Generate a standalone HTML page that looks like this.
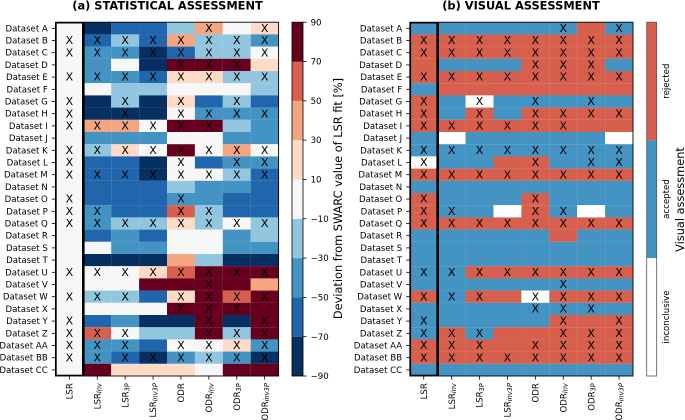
<!DOCTYPE html>
<html lang="en">
<head>
<meta charset="utf-8">
<title>Statistical and visual assessment heatmaps</title>
<style>
  html, body { margin: 0; padding: 0; background: #fff; }
  #chart { display: block; width: 685px; height: 420px; font-family: "DejaVu Sans", "Liberation Sans", sans-serif; filter: blur(0.3px); }
</style>
</head>
<body>
<svg id="chart" xmlns="http://www.w3.org/2000/svg" width="685" height="420" viewBox="0 0 685 420"></svg>
<script>
// ---------- Data ----------
const datasets = ['A','B','C','D','E','F','G','H','I','J','K','L','M','N','O','P','Q','R','S','T','U','V','W','X','Y','Z','AA','BB','CC'];
const methods = [['LSR',''],['LSR','inv'],['LSR','3P'],['LSR','inv3P'],['ODR',''],['ODR','inv'],['ODR','3P'],['ODR','inv3P']];
const colorbarTicks = [-90,-70,-50,-30,-10,10,30,50,70,90];
const visualLabels = ['inconclusive','accepted','rejected'];

// deviation from LSR fit [%], one row per dataset
const statValues = [
  [0,-80,-60,-60,-20,40,0,20],
  [0,-60,-20,-60,40,-20,-20,-40],
  [0,-40,-40,-80,-60,-20,-20,0],
  [0,-40,0,-80,80,80,80,20],
  [0,-40,-40,-60,20,20,-20,-20],
  [0,0,-20,-20,0,0,0,-20],
  [0,-80,-20,-80,20,-60,-20,-60],
  [0,-80,-80,-80,0,-40,-40,-40],
  [0,40,40,0,80,80,-20,-40],
  [0,-40,-40,-40,0,0,-40,-40],
  [0,-20,20,0,80,0,40,0],
  [0,-60,-60,-80,0,-60,-40,-40],
  [0,-60,-60,-80,0,0,-20,-60],
  [0,-60,-60,-60,-20,-40,-40,-60],
  [0,-60,-60,-60,-40,-40,-60,-60],
  [0,-40,-60,-60,60,-20,-60,-60],
  [0,-40,-20,-20,20,-20,0,-20],
  [0,-60,-40,-60,0,0,-40,-20],
  [0,0,-40,-40,0,0,-40,-40],
  [0,-80,-80,-80,40,-20,-80,-80],
  [0,0,0,20,60,80,80,80],
  [0,0,0,80,80,80,80,40],
  [0,-20,-20,-60,20,80,60,80],
  [0,0,0,0,80,80,80,80],
  [0,-60,-40,-80,-80,80,-80,80],
  [0,60,0,-20,-20,80,-20,80],
  [0,-40,-40,-60,0,0,20,-40],
  [0,-40,-60,-80,-40,-20,-40,-80],
  [0,80,20,20,20,0,80,80]
];

// visual assessment: 2 rejected, 1 accepted, 0 inconclusive
const visualValues = [
  [1,1,1,1,1,1,2,1],
  [2,2,2,2,2,2,2,2],
  [2,2,2,2,2,2,2,2],
  [2,1,1,1,2,2,2,1],
  [2,2,2,2,2,2,2,2],
  [1,2,2,2,2,2,2,2],
  [2,1,0,1,1,1,1,1],
  [2,1,2,1,2,2,2,2],
  [2,2,2,2,2,2,2,2],
  [1,0,1,1,1,1,1,0],
  [1,1,1,1,1,1,1,1],
  [0,1,1,2,2,1,1,1],
  [2,2,2,2,2,2,2,2],
  [1,1,1,1,1,1,1,1],
  [2,1,1,1,2,1,1,1],
  [2,1,1,0,2,1,0,1],
  [2,2,2,2,2,2,2,2],
  [1,1,1,1,1,2,1,1],
  [1,1,1,1,1,1,1,1],
  [1,1,1,1,1,1,1,1],
  [1,1,2,2,2,2,2,2],
  [1,1,1,1,1,1,1,1],
  [2,1,2,2,0,2,2,2],
  [1,1,1,1,1,1,1,1],
  [1,1,1,1,1,2,2,2],
  [1,2,1,2,2,2,2,2],
  [2,2,2,2,2,2,2,2],
  [2,2,2,2,2,2,2,2],
  [1,1,1,1,1,1,1,1]
];

// 1 = X marker shown for this dataset and method
const crossMarks = [
  [0,0,0,0,0,1,0,1],
  [1,1,1,1,1,1,1,1],
  [1,1,1,1,1,1,1,1],
  [0,0,0,0,1,1,1,0],
  [1,1,1,1,1,1,1,1],
  [0,0,0,0,0,0,0,0],
  [1,0,1,0,1,0,1,0],
  [1,0,1,0,1,1,1,1],
  [1,1,1,1,1,1,0,0],
  [0,0,0,0,0,0,0,0],
  [1,1,1,1,1,1,1,1],
  [1,0,0,0,1,0,1,1],
  [1,1,1,1,1,1,1,1],
  [0,0,0,0,0,0,0,0],
  [1,0,0,0,1,0,0,0],
  [1,1,0,0,1,1,0,0],
  [1,1,1,1,1,1,1,1],
  [0,0,0,0,0,0,0,0],
  [0,0,0,0,0,0,0,0],
  [0,0,0,0,0,0,0,0],
  [1,1,1,1,1,1,1,1],
  [0,0,0,0,0,1,0,0],
  [1,1,1,0,1,1,1,1],
  [0,0,0,0,1,1,1,0],
  [1,0,0,0,0,1,0,1],
  [1,1,1,0,0,1,1,1],
  [1,1,1,0,1,1,1,1],
  [1,1,1,1,1,1,1,1],
  [0,0,0,0,0,0,0,0]
];

// ---------- Layout and scales ----------
const TOP = 22.2, BOTTOM = 376;
const PANEL_A_LEFT = 55.4, PANEL_B_LEFT = 409.8, PANEL_WIDTH = 223.2;
const CB_A_LEFT = 292, CB_B_LEFT = 646.7, CB_A_W = 11, CB_B_W = 10;
const statColors = ['#053061','#2166ac','#4393c3','#92c5de','#f7f7f7','#fddbc7','#f4a582','#d6604d','#67001f'];
const visualColors = ['#ffffff','#4393c3','#d6604d'];
const rowH = (BOTTOM - TOP) / datasets.length;
const colW = PANEL_WIDTH / methods.length;
const xScale = (left, c) => left + c * colW;
const yScale = r => TOP + r * rowH;
const cbScale = v => BOTTOM - (v + 90) / 180 * (BOTTOM - TOP);
const statColor = v => statColors[Math.max(0, Math.min(8, Math.floor((v + 90) / 20)))];

const svg = document.getElementById('chart');
const NS = 'http://www.w3.org/2000/svg';
function make(tag, attrs, parent, text) {
  const el = document.createElementNS(NS, tag);
  for (const k in attrs) el.setAttribute(k, attrs[k]);
  if (text !== undefined) el.textContent = text;
  (parent || svg).appendChild(el);
  return el;
}
const minusText = v => v < 0 ? '\u2212' + Math.abs(v) : String(v);

function drawPanel(prefix, title, titleX, left, values, colorOf, thickBox) {
  const panel = make('g', {});
  
  

  const clip = make('clipPath', {id: prefix + '-clip'}, panel);
  make('rect', {x: left, y: TOP, width: PANEL_WIDTH, height: BOTTOM - TOP}, clip);

  const t = make('text', {x: titleX, y: 9.3, 'text-anchor': 'middle', 'font-size': 11.4, 'font-weight': 'bold', fill: '#000'}, panel, title);
  
  

  values.forEach((row, r) => {
    row.forEach((v, c) => {
      const cell = make('rect', {x: xScale(left, c), y: yScale(r), width: colW + 0.05, height: rowH + 0.05, fill: colorOf(v)}, panel);
      
      
    });
  });

  crossMarks.forEach((row, r) => {
    row.forEach((m, c) => {
      if (!m) return;
      const mark = make('text', {x: xScale(left, c) + colW / 2, y: yScale(r) + rowH / 2 + 3.6, 'text-anchor': 'middle', 'font-size': 11, fill: '#000'}, panel, 'X');
      
      
    });
  });

  const frame = make('rect', {x: left, y: TOP, width: PANEL_WIDTH, height: BOTTOM - TOP, fill: 'none', stroke: '#000', 'stroke-width': 0.9}, panel);
  
  

  const box = make('rect', {x: left, y: TOP, width: colW, height: BOTTOM - TOP, fill: 'none', stroke: '#000', 'stroke-width': thickBox, 'clip-path': 'url(#' + prefix + '-clip)'}, panel);
  
  

  datasets.forEach((d, r) => {
    const y = yScale(r) + rowH / 2;
    const tick = make('line', {x1: left - 3.6, x2: left, y1: y, y2: y, stroke: '#000', 'stroke-width': 0.8}, panel);
    
    
    const label = make('text', {x: left - 7.6, y: y + 3, 'text-anchor': 'end', 'font-size': 8.6, fill: '#000'}, panel, 'Dataset ' + d);
    
    
  });

  methods.forEach((m, c) => {
    const x = xScale(left, c) + colW / 2;
    const tick = make('line', {x1: x, x2: x, y1: BOTTOM, y2: BOTTOM + 3.6, stroke: '#000', 'stroke-width': 0.8}, panel);
    
    
    const label = make('text', {transform: 'translate(' + (x + 3.1) + ',' + (BOTTOM + 7.2) + ') rotate(-90)', 'text-anchor': 'end', 'font-size': 8.6, fill: '#000'}, panel);
    
    
    make('tspan', {}, label, m[0]);
    if (m[1]) {
      make('tspan', {'font-size': 6.6, dy: 1.3, 'font-style': m[1].indexOf('inv') === 0 ? 'italic' : 'normal'}, label, m[1]);
    }
  });
}

drawPanel('statistical', '(a) STATISTICAL ASSESSMENT', 167.5, PANEL_A_LEFT, statValues, statColor, 2.6);
drawPanel('visual', '(b) VISUAL ASSESSMENT', 521, PANEL_B_LEFT, visualValues, v => visualColors[v], 2.6);

// ---------- Statistical colorbar ----------
const cbA = make('g', {});


statColors.forEach((col, i) => {
  const y1 = cbScale(colorbarTicks[i + 1]), y2 = cbScale(colorbarTicks[i]);
  const band = make('rect', {x: CB_A_LEFT, y: y1, width: CB_A_W, height: y2 - y1 + 0.05, fill: col}, cbA);
  
  
});
const cbAFrame = make('rect', {x: CB_A_LEFT, y: TOP, width: CB_A_W, height: BOTTOM - TOP, fill: 'none', stroke: '#000', 'stroke-width': 0.8}, cbA);


colorbarTicks.forEach(v => {
  const y = cbScale(v);
  const tick = make('line', {x1: CB_A_LEFT + CB_A_W, x2: CB_A_LEFT + CB_A_W + 3.6, y1: y, y2: y, stroke: '#000', 'stroke-width': 0.8}, cbA);
  
  
  const label = make('text', {x: CB_A_LEFT + CB_A_W + 7.6, y: y + 3.1, 'font-size': 8.6, fill: '#000'}, cbA, minusText(v));
  
  
});
const cbATitle = make('text', {transform: 'translate(342,198.5) rotate(-90)', 'text-anchor': 'middle', 'font-size': 11.35, fill: '#000'}, cbA, 'Deviation from SWARC value of LSR fit [%]');



// ---------- Visual colorbar ----------
const cbB = make('g', {});


const visualBandH = (BOTTOM - TOP) / visualLabels.length;
visualLabels.forEach((name, i) => {
  const y = BOTTOM - (i + 1) * visualBandH;
  const band = make('rect', {x: CB_B_LEFT, y: y, width: CB_B_W, height: visualBandH, fill: visualColors[i]}, cbB);
  
  
  const label = make('text', {transform: 'translate(669.2,' + (y + visualBandH / 2) + ') rotate(-90)', 'text-anchor': 'middle', 'font-size': 8.6, fill: '#000'}, cbB, name);
  
  
});
const cbBFrame = make('rect', {x: CB_B_LEFT, y: TOP, width: CB_B_W, height: BOTTOM - TOP, fill: 'none', stroke: '#555', 'stroke-width': 0.8}, cbB);


const cbBTitle = make('text', {transform: 'translate(684,199.5) rotate(-90)', 'text-anchor': 'middle', 'font-size': 11.35, fill: '#000'}, cbB, 'Visual assessment');


</script>
</body>
</html>
